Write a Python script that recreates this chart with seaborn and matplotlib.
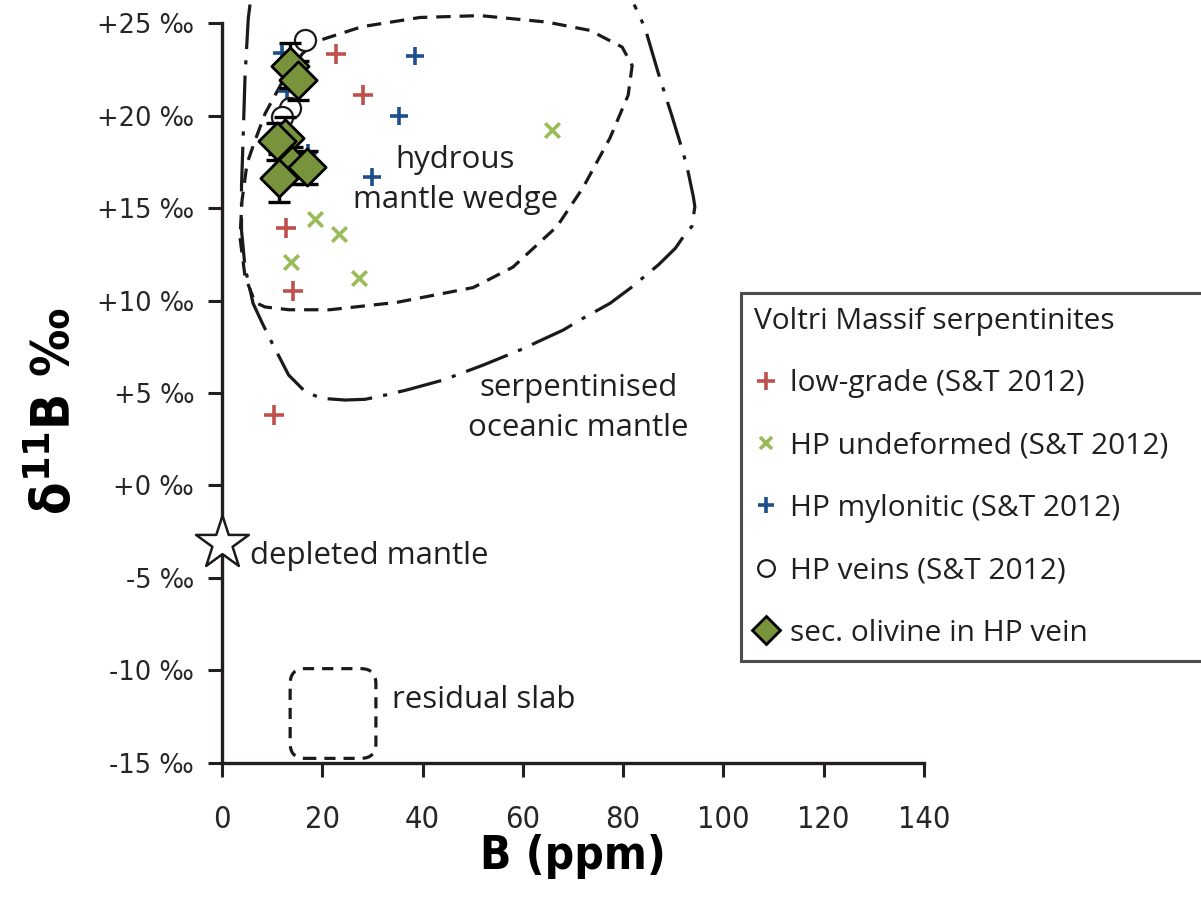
import numpy as np
import matplotlib
matplotlib.use("Agg")
import matplotlib.pyplot as plt
import seaborn as sns
from matplotlib.lines import Line2D
from matplotlib.patches import FancyBboxPatch

# data
low_grade_B = [22.7, 28.2, 12.8, 14.2, 10.3]
low_grade_d = [23.3, 21.1, 13.9, 10.5, 3.8]

hp_undef_B = [65.9, 18.6, 23.3, 13.8, 27.3]
hp_undef_d = [19.2, 14.4, 13.6, 12.1, 11.2]

hp_mylo_B = [11.9, 12.9, 17.2, 29.9, 35.4, 38.4]
hp_mylo_d = [23.4, 21.3, 18.0, 16.7, 20.0, 23.2]

hp_veins_B = [16.6, 13.6, 11.9]
hp_veins_d = [24.1, 20.4, 19.9]

olivine_B = [13.6, 15.2, 12.6, 10.9, 13.9, 16.9, 11.4]
olivine_d = [22.7, 21.9, 18.8, 18.6, 17.3, 17.2, 16.6]
olivine_err = [1.2, 1.05, 1.1, 1.0, 1.0, 0.9, 1.3]

depleted_B = [0.0]
depleted_d = [-3.1]

# field outlines
wedge_B = [16.2, 19.9, 27.9, 39.5, 51.5, 64.8, 73.4, 79.8, 81.8, 81.0, 77.4, 72.0,
           66.8, 58.0, 50.1, 34.9, 21.5, 13.4, 8.6, 6.6, 4.6, 3.6, 4.0, 5.0, 6.4,
           8.6, 12.0, 16.2]
wedge_d = [23.4, 24.1, 24.8, 25.3, 25.4, 25.05, 24.6, 23.7, 22.7, 21.1, 18.8, 16.1,
           14.0, 11.8, 10.7, 9.9, 9.5, 9.5, 9.65, 9.9, 11.3, 13.4, 15.4, 17.4, 18.5,
           20.1, 21.8, 23.4]

serp_B = [5.6, 5.25, 4.6, 4.25, 3.9, 3.9, 4.6, 6.2, 8.0, 10.0, 13.3, 16.6, 19.9,
          24.6, 28.6, 32.6, 36.8, 44.1, 52.1, 59.4, 68.1, 71.4, 77.4, 81.4, 87.0,
          90.4, 92.7, 93.7, 94.3, 94.0, 93.0, 92.0, 89.7, 88.4, 87.0, 84.4, 82.2]
serp_d = [26.0, 25.25, 22.1, 19.0, 16.15, 13.8, 11.8, 9.85, 8.8, 7.7, 5.97, 5.07,
          4.71, 4.62, 4.66, 4.89, 5.16, 5.70, 6.51, 7.32, 8.41, 8.95, 9.85, 10.66,
          11.92, 12.82, 13.72, 14.0, 15.07, 15.6, 16.9, 17.96, 20.0, 21.1, 22.3,
          24.7, 26.0]

slab_B = [13.6, 30.7]
slab_d = [-14.75, -9.9]

yticks = [-15, -10, -5, 0, 5, 10, 15, 20, 25]
xticks = [0, 20, 40, 60, 80, 100, 120, 140]

sns.set_style("white")
plt.rcParams["font.family"] = ["Open Sans", "DejaVu Sans"]

fig = plt.figure(figsize=(12.01, 9.13), dpi=100)
ax = fig.add_axes([0.1848, 0.1643, 0.5846, 0.8105])

red = "#c0504d"
green = "#9bbb59"
blue = "#1f4e8c"
olive = "#77933c"
ink = "#231f20"

# outlines
ax.plot(wedge_B, wedge_d, color="#1a1a1a", lw=2.3, ls=(0, (4.5, 2.8)), clip_on=False)
ax.plot(serp_B, serp_d, color="#1a1a1a", lw=2.3, ls=(0, (14, 3.5, 1.3, 3.5)), clip_on=False)
slab = FancyBboxPatch((slab_B[0], slab_d[0]), slab_B[1] - slab_B[0], slab_d[1] - slab_d[0],
                      boxstyle="round,pad=0,rounding_size=3", mutation_aspect=0.27,
                      fill=False, ec="#1a1a1a", lw=2.3, ls=(0, (3.5, 2.5)), clip_on=False)
ax.add_patch(slab)

sns.scatterplot(x=low_grade_B, y=low_grade_d, marker="+", s=200, color=red,
                linewidth=2.6, ax=ax, zorder=4)
sns.scatterplot(x=hp_undef_B, y=hp_undef_d, marker="x", s=110, color=green,
                linewidth=2.6, ax=ax, zorder=4)
sns.scatterplot(x=hp_mylo_B, y=hp_mylo_d, marker="+", s=150, color=blue,
                linewidth=2.6, ax=ax, zorder=4)
sns.scatterplot(x=hp_veins_B, y=hp_veins_d, marker="o", s=230, facecolor="white",
                edgecolor="#1a1a1a", linewidth=1.6, ax=ax, zorder=5)
ax.errorbar(olivine_B, olivine_d, yerr=olivine_err, fmt="none", ecolor="black",
            elinewidth=2.4, capsize=8, capthick=2.4, zorder=6)
sns.scatterplot(x=olivine_B, y=olivine_d, marker="D", s=360, color=olive,
                edgecolor="black", linewidth=2.0, ax=ax, zorder=7)
sns.scatterplot(x=depleted_B, y=depleted_d, marker="*", s=1600, color="white",
                edgecolor="#1a1a1a", linewidth=1.8, ax=ax, zorder=7, clip_on=False)

# field labels
txt = dict(fontsize=22.5, color=ink)
ax.text(46.5, 16.5, "hydrous\nmantle wedge", ha="center", va="center",
        linespacing=1.45, **txt)
ax.text(71.0, 4.2, "serpentinised\noceanic mantle", ha="center", va="center",
        linespacing=1.45, **txt)
ax.text(5.6, -3.8, "depleted mantle", ha="left", va="center", **txt)
ax.text(33.9, -11.6, "residual slab", ha="left", va="center", **txt)

ax.set_xlim(0, 140)
ax.set_ylim(-15, 25)
ax.set_xticks(xticks)
ax.set_yticks(yticks)
ax.set_yticklabels([f"{v:+d} ‰" for v in yticks], family="DejaVu Sans", fontsize=18.5)
ax.set_xticklabels([str(v) for v in xticks], family="DejaVu Sans", fontstretch="condensed",
                   fontsize=22)
ax.tick_params(axis="both", direction="out", length=10, width=2.2, color=ink,
               bottom=True, left=True)
ax.tick_params(axis="x", pad=20)
ax.tick_params(axis="y", pad=10)
sns.despine(ax=ax)
for sp in ["left", "bottom"]:
    ax.spines[sp].set_linewidth(2.4)
    ax.spines[sp].set_color(ink)

ax.set_xlabel("B (ppm)", fontsize=33, fontweight="bold", family="DejaVu Sans",
              fontstretch="condensed", labelpad=0, color="black")
ax.set_ylabel("δ$^{\\mathbf{11}}$B ‰", fontsize=38, fontweight="bold",
              family="DejaVu Sans", fontstretch="condensed", color="black")
ax.yaxis.set_label_coords(-0.20, 0.475)

handles = [
    Line2D([], [], ls="none", marker="+", ms=13, mew=2.6, color=red),
    Line2D([], [], ls="none", marker="x", ms=9, mew=2.6, color=green),
    Line2D([], [], ls="none", marker="+", ms=12, mew=2.6, color=blue),
    Line2D([], [], ls="none", marker="o", ms=12, mfc="white", mec="#1a1a1a", mew=1.6),
    Line2D([], [], ls="none", marker="D", ms=14, mfc=olive, mec="black", mew=2.0),
]
labels = ["low-grade (S&T 2012)", "HP undeformed (S&T 2012)", "HP mylonitic (S&T 2012)",
          "HP veins (S&T 2012)", "sec. olivine in HP vein"]
leg = fig.legend(handles, labels, title="Voltri Massif serpentinites",
                 loc="upper left", bbox_to_anchor=(0.617, 0.279, 0.40, 0.40),
                 mode="expand", fontsize=21.5,
                 title_fontsize=21.5, frameon=True, fancybox=False, edgecolor=ink,
                 labelspacing=1.12, handlelength=0.75, handletextpad=0.45,
                 borderpad=0.45, borderaxespad=0, alignment="left")
leg.get_frame().set_linewidth(2.2)
for t in leg.get_texts() + [leg.get_title()]:
    t.set_color(ink)

fig.savefig("out.png", dpi=100)
